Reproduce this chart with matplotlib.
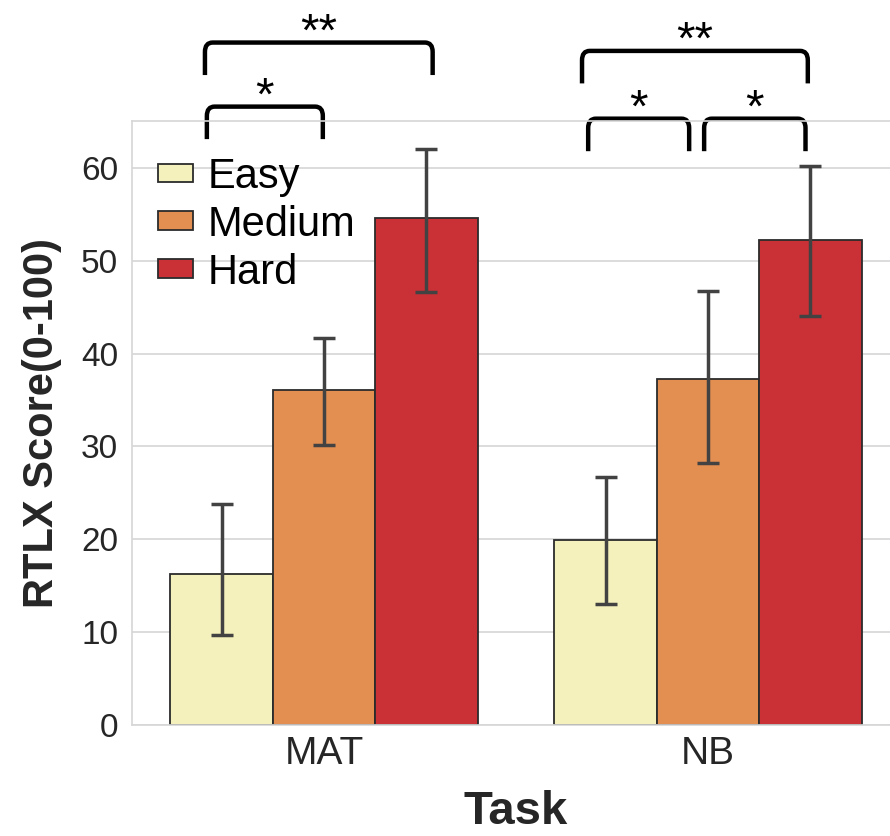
import matplotlib
matplotlib.use("Agg")
import matplotlib.pyplot as plt
from matplotlib.path import Path
from matplotlib.patches import PathPatch
import numpy as np

plt.rcParams['font.family'] = ['Liberation Sans', 'DejaVu Sans']

tasks = ["MAT", "NB"]
levels = ["Easy", "Medium", "Hard"]
colors = ["#f5f1bc", "#e38f52", "#ca3136"]

# mean RTLX score per task, one list per difficulty level
means = {
    "Easy": [16.3, 19.9],
    "Medium": [36.1, 37.3],
    "Hard": [54.6, 52.2],
}
# error bar ends (low, high)
err_low = {
    "Easy": [9.7, 13.0],
    "Medium": [30.2, 28.2],
    "Hard": [46.6, 44.0],
}
err_high = {
    "Easy": [23.8, 26.7],
    "Medium": [41.7, 46.7],
    "Hard": [62.0, 60.2],
}

# significance brackets: (x_left, x_right, y_top, label)
brackets = [
    (-0.305, -0.003, 66.6, "*"),
    (-0.31, 0.283, 73.5, "**"),
    (0.688, 0.951, 65.3, "*"),
    (0.990, 1.254, 65.3, "*"),
    (0.672, 1.260, 72.6, "**"),
]


def draw_bracket(ax, x1, x2, y, label, leg=3.5, r=0.02, rv=1.0, fs=34):
    verts = [(x1, y - leg), (x1, y - rv), (x1, y), (x1 + r, y),
             (x2 - r, y), (x2, y), (x2, y - rv), (x2, y - leg)]
    codes = [Path.MOVETO, Path.LINETO, Path.CURVE3, Path.CURVE3,
             Path.LINETO, Path.CURVE3, Path.CURVE3, Path.LINETO]
    patch = PathPatch(Path(verts, codes), fill=False, lw=3.2, color="black",
                      clip_on=False, capstyle="butt", joinstyle="round")
    ax.add_patch(patch)
    # put the middle of the star glyph a bit above the bracket
    ax.annotate(label, ((x1 + x2) / 2, y + 2.6), xytext=(0, -0.58 * fs),
                textcoords="offset points", ha="center", va="baseline",
                fontsize=fs, color="black", annotation_clip=False)


fig = plt.figure(figsize=(8.9, 8.36), dpi=100)
ax = fig.add_axes([0.1483, 0.1328, 0.8629, 0.7219])

width = 0.8 / 3
x = np.arange(len(tasks))
for i, lvl in enumerate(levels):
    pos = x + (i - 1) * width
    m = np.array(means[lvl])
    lo = m - np.array(err_low[lvl])
    hi = np.array(err_high[lvl]) - m
    ax.bar(pos, m, width, color=colors[i], edgecolor="#2b2b2b", linewidth=1.3,
           label=lvl, zorder=2)
    ax.errorbar(pos, m, yerr=[lo, hi], fmt="none", ecolor="#424242",
                elinewidth=2.5, capsize=8, capthick=2.5, zorder=3)

ax.set_xlim(-0.5, 1.5)
ax.set_ylim(0, 65)
ax.set_xticks(x)
ax.set_xticklabels(tasks)
ax.set_yticks(np.arange(0, 61, 10))
ax.tick_params(axis="both", length=0, labelsize=24, colors="#262626", pad=10)
ax.tick_params(axis="x", labelsize=28, pad=8)
ax.yaxis.grid(True, color="#d6d6d6", lw=1.2, zorder=0)
ax.set_axisbelow(True)
for s in ax.spines.values():
    s.set_color("#d6d6d6")
    s.set_linewidth(1.2)

ax.set_ylabel("RTLX Score(0-100)", fontsize=30, fontweight="bold",
              color="#262626", labelpad=14)
ax.set_xlabel("Task", fontsize=34, fontweight="bold", color="#262626",
              labelpad=13)

ax.legend(loc="upper left", bbox_to_anchor=(-0.004, 0.99), frameon=False,
          fontsize=30, handlelength=0.85, handleheight=0.3,
          handletextpad=0.35, labelspacing=0.19, borderaxespad=0.3)

for x1, x2, y, lab in brackets:
    draw_bracket(ax, x1, x2, y, lab)

fig.savefig("out.png", dpi=100)
